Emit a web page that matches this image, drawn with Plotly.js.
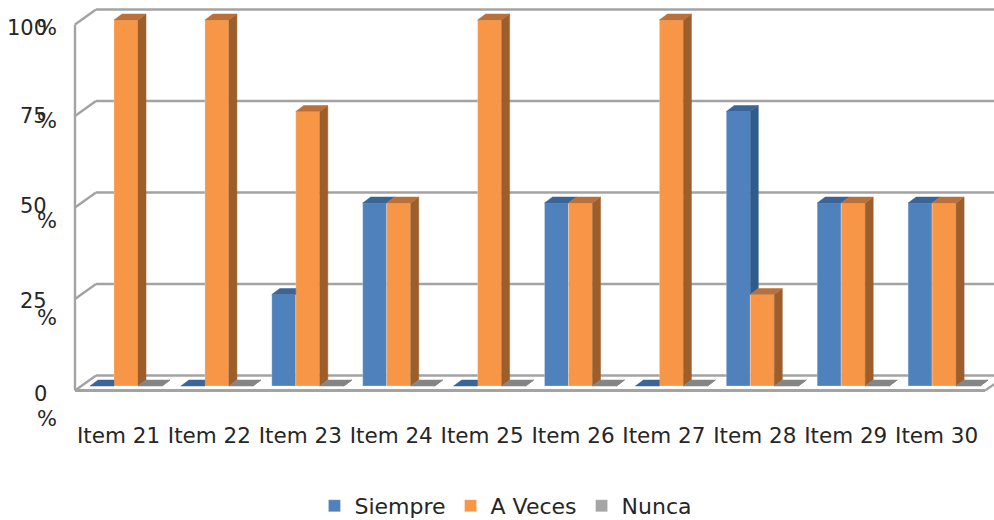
<!DOCTYPE html>
<html><head><meta charset="utf-8">
<script src="https://cdn.plot.ly/plotly-3.0.1.min.js"></script>
<style>html,body{margin:0;padding:0;background:#fff}</style></head>
<body><div id="chart" style="width:994px;height:520px"></div>
<script>
var categories = ["Item 21","Item 22","Item 23","Item 24","Item 25","Item 26","Item 27","Item 28","Item 29","Item 30"];
var siempre = [0,0,25,50,0,50,0,75,50,50];
var aVeces  = [100,100,75,50,100,50,100,25,50,50];
var nunca   = [0,0,0,0,0,0,0,0,0,0];
var yTicks = [100,75,50,25,0];
var yTickNumbers = ["100","75","50","25","0"];

// plot scale: px per unit, used only to express the 3-D depth offsets in data units
var PXX = 90.9, PXY = 3.66, W = 994, PH = 400, X0 = 126, Y0 = 386;
var xs = categories.map(function(_,i){return i;});
var labelXs = xs.map(function(x){return x-7.5/PXX;});
var barW = 24/PXX, depX = 8/PXX, depY = 6/PXY;
function px(v){return v/PXX;}

var series = [
 {name:"Siempre", v:siempre, off:-1, front:"#4f81bd", top:"#3a6596", side:"#2f5b8e"},
 {name:"A Veces", v:aVeces,  off:0,  front:"#f79646", top:"#b9703a", side:"#9c5e2b"},
 {name:"Nunca",   v:nunca,   off:1,  front:"#a5a5a5", top:"#858585", side:"#6f6f6f"}
];
var traces = [];
series.forEach(function(s){
  traces.push({type:"bar", name:s.name, x:xs, y:s.v, width:barW, offset:(s.off-0.5)*barW,
    marker:{color:s.front, line:{color:"rgba(255,255,255,0.25)",width:1}}, hoverinfo:"name+y"});
});
function poly(color, X, Y){
  traces.push({type:"scatter",mode:"lines",x:X,y:Y,fill:"toself",fillcolor:color,
    line:{color:color,width:0.5},showlegend:false,hoverinfo:"skip"});
}
series.forEach(function(s,k){
  var next = series[k+1];
  var sx=[],sy=[],tx=[],ty=[];
  s.v.forEach(function(v,i){
    var x0=i+(s.off-0.5)*barW, x1=x0+barW, nv = next ? next.v[i] : -1;
    // side face: only the part not hidden by the neighbouring bar in the same group
    if(nv<v){
      var low = Math.max(nv,0);
      sx.push(x1,x1+depX,x1+depX,x1,x1,null);
      sy.push(v,v+depY,low+depY,low,v,null);
    }
    // top face: clipped at the neighbour's front when that neighbour is taller
    if(nv>v){
      tx.push(x0,x0+depX,x1,x1,x0,null);
      ty.push(v,v+depY,v+depY,v,v,null);
    } else {
      tx.push(x0,x0+depX,x1+depX,x1,x0,null);
      ty.push(v,v+depY,v+depY,v,v,null);
    }
  });
  poly(s.side,sx,sy);
  poly(s.top,tx,ty);
});

// walls
var LEFT=(75-X0)/PXX, BACK=(96-X0)/PXX, FRONT0=-(390.5-Y0)/PXY, BACK0=(Y0-375.5)/PXY, RIGHTF=(985-X0)/PXX;
var wallColor="#a3a3a3";
var shapes=[];
function seg(x0,y0,x1,y1,w){shapes.push({type:"line",layer:"below",xref:"x",yref:"y",x0:x0,y0:y0,x1:x1,y1:y1,line:{color:wallColor,width:w||2.4}});}
yTicks.forEach(function(t){
  seg(LEFT,FRONT0+t,BACK,BACK0+t);
  seg(BACK,BACK0+t,RIGHTF+px(24),BACK0+t);
});
seg(LEFT,FRONT0,LEFT,FRONT0+100);
seg(LEFT,FRONT0,RIGHTF,FRONT0,3);
seg(RIGHTF,FRONT0,RIGHTF+px(22),BACK0);

// y labels: each tick's number and its wrapped % sign
var numShift=[-3,0,2,-1.5,-3], pctShift=[-3,-5,-13,-18.5,-28];
var anns=[];
var textFont={family:"DejaVu Sans",size:21,color:"#262626"};
yTicks.forEach(function(t,i){
  anns.push({xref:"x",yref:"y",x:LEFT,y:FRONT0+t,text:yTickNumbers[i],showarrow:false,xanchor:"right",yanchor:"middle",xshift:-26,yshift:numShift[i],font:textFont});
  anns.push({xref:"x",yref:"y",x:LEFT,y:FRONT0+t,text:"%",showarrow:false,xanchor:"right",yanchor:"middle",xshift:-16,yshift:pctShift[i],font:textFont});
});

var layout={
  width:W,height:520,margin:{l:0,r:0,t:0,b:520-PH,pad:0},
  paper_bgcolor:"#fff",plot_bgcolor:"#fff",
  barmode:"overlay",
  xaxis:{range:[-X0/PXX,(W-X0)/PXX],tickmode:"array",tickvals:labelXs,ticktext:categories,showgrid:false,zeroline:false,showline:false,
    ticks:"",ticklabelstandoff:20,tickfont:{family:"DejaVu Sans",size:21.5,color:"#262626"},fixedrange:true},
  yaxis:{range:[(Y0-PH)/PXY,Y0/PXY],showgrid:false,zeroline:false,showline:false,showticklabels:false,ticks:"",fixedrange:true},
  shapes:shapes,annotations:anns,
  showlegend:true,
  legend:{orientation:"h",x:0.509,xanchor:"center",y:0.027,yanchor:"middle",yref:"container",font:{family:"DejaVu Sans",size:22,color:"#262626"},traceorder:"normal",itemclick:false}
};
Plotly.newPlot("chart",traces,layout,{displayModeBar:false,staticPlot:true});
</script></body></html>
